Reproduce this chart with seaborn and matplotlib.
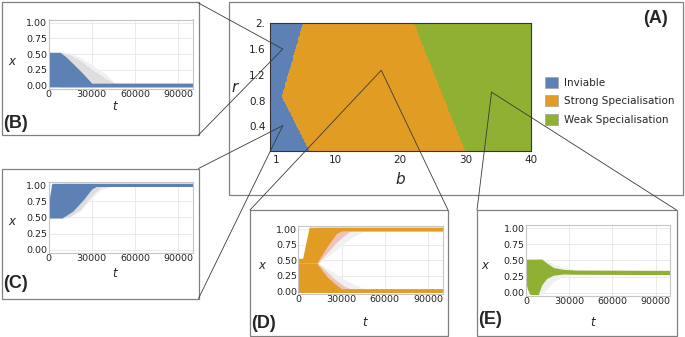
import numpy as np
import matplotlib
matplotlib.use("Agg")
import matplotlib.pyplot as plt
import seaborn as sns
from matplotlib.colors import ListedColormap
from matplotlib.patches import Patch, Rectangle, ConnectionPatch
from matplotlib.ticker import FormatStrFormatter

# ---- panel A: (b, r) plane, region borders ----
regions = ['Inviable', 'Strong Specialisation', 'Weak Specialisation']
region_colors = ['#5e81b5', '#e19c24', '#8fb032']
inviable_r = [0.0, 0.86, 2.0]
inviable_b = [6.1, 1.85, 5.1]
weak_r = [0.0, 2.0]
weak_b = [30.0, 22.1]
b_ticks = [1, 10, 20, 30, 40]
r_ticks = [0.4, 0.8, 1.2, 1.6, 2.0]
r_ticklabels = ['0.4', '0.8', '1.2', '1.6', '2.']

# (b, r) of the runs shown in B-E
picked = {'B': (2.0, 1.6), 'C': (2.0, 0.41), 'D': (17.1, 1.27), 'E': (34.0, 0.93)}

# ---- panels B-E: spread of x(t) over many runs (band + faint halo) ----
t_ticks = [0, 30000, 60000, 90000]
x_ticks = [0, 0.25, 0.5, 0.75, 1.0]

b_t = [0, 8000, 12000, 17000, 24000, 30000, 100000]
b_hi = [0.53, 0.53, 0.46, 0.35, 0.19, 0.04, 0.04]
b_lo = [-0.02] * 7
b_halo_t = [8000, 14000, 22000, 30000, 40000, 46000, 100000]
b_halo_hi = [0.53, 0.52, 0.45, 0.33, 0.18, 0.04, 0.04]
b_halo2_hi = [0.53, 0.50, 0.40, 0.26, 0.11, 0.04, 0.04]

c_t = [0, 2300, 9300, 17000, 24000, 30000, 33000, 100000]
c_hi = [0.72, 1.03, 1.03, 1.03, 1.03, 1.03, 1.03, 1.03]
c_lo = [0.49, 0.49, 0.49, 0.60, 0.77, 0.94, 0.98, 0.98]
c_halo_t = [9300, 14000, 22000, 30000, 36000, 42000, 100000]
c_halo_lo = [0.49, 0.51, 0.60, 0.80, 0.92, 0.98, 0.98]
c_halo2_lo = [0.49, 0.50, 0.62, 0.84, 0.96, 0.98, 0.98]

d_t = [0, 3000, 7500, 12800, 20000, 26500, 30000, 100000]
d_top = [0.53, 0.53, 1.03, 1.03, 1.03, 1.03, 1.03, 1.03]
d_mid_hi = [0.45, 0.45, 0.45, 0.45, 0.72, 0.93, 0.97, 0.97]
d_mid_lo = [0.45, 0.45, 0.45, 0.45, 0.23, 0.10, 0.04, 0.04]
d_bot = [-0.02] * 8
d_halo_t = [12800, 14000, 20000, 26000, 32000, 38000, 46000, 100000]
d_halo_top = [0.45, 0.45, 0.55, 0.66, 0.78, 0.88, 0.97, 0.97]
d_halo_bot = [0.45, 0.45, 0.37, 0.28, 0.19, 0.12, 0.04, 0.04]
d_pink_t = [12800, 13500, 20000, 26000, 32000, 36000, 100000]
d_pink_top = [0.45, 0.45, 0.62, 0.78, 0.90, 0.97, 0.97]
d_pink_bot = [0.45, 0.45, 0.31, 0.18, 0.08, 0.04, 0.04]

e_t = [0, 1000, 2800, 8500, 10900, 14400, 19000, 25900, 35200, 100000]
e_hi = [0.52, 0.52, 0.52, 0.52, 0.52, 0.46, 0.39, 0.36, 0.35, 0.345]
e_lo = [0.15, 0.05, -0.03, -0.03, 0.12, 0.22, 0.27, 0.29, 0.285, 0.28]
e_halo_t = [8500, 10900, 14400, 19000, 25900, 35200, 45000, 100000]
e_halo_hi = [0.53, 0.53, 0.50, 0.44, 0.39, 0.36, 0.35, 0.345]
e_halo_lo = [-0.03, -0.03, 0.05, 0.17, 0.25, 0.28, 0.28, 0.28]

W, H = 685, 337
sns.set_style("whitegrid", {"grid.color": "#e6e6e6", "axes.edgecolor": "#c6c6c6"})
plt.rcParams['font.family'] = ['DejaVu Sans']
fig = plt.figure(figsize=(W / 100, H / 100), dpi=100)


def rect(l, t, r, b):
    return [l / W, 1 - b / H, (r - l) / W, (b - t) / H]


def fpos(x, y):
    return (x / W, 1 - y / H)


# frames around the panels
frame_kw = dict(fill=False, edgecolor='#808080', lw=0.9, transform=fig.transFigure)
frames = {'A': (229, 1.5, 682.5, 195), 'B': (1.5, 2, 198.5, 135), 'C': (1.5, 168.5, 198.5, 298.5),
          'D': (250, 210, 448, 335.5), 'E': (477, 210, 676.5, 335.5)}
for l, t, r, b in frames.values():
    fig.add_artist(Rectangle(fpos(l, b), (r - l) / W, (b - t) / H, **frame_kw))

# ---------------- panel A ----------------
axA = fig.add_axes(rect(269.7, 23.3, 530.7, 150.7))
b0, b1, db = 0.0, 40.0, 0.1
r0, r1, dr = 0.02, 2.0, 0.02
bc = np.arange(b0 + db / 2, b1, db)
rc = np.arange(r1 - dr / 2, r0, -dr)
BB, RR = np.meshgrid(bc, rc)
inv_edge = np.interp(RR, inviable_r, inviable_b)
weak_edge = np.interp(RR, weak_r, weak_b)
cls = np.where(BB < inv_edge, 0, np.where(BB < weak_edge, 1, 2))
sns.heatmap(cls, ax=axA, cmap=ListedColormap(region_colors), vmin=-0.5, vmax=2.5,
            cbar=False, xticklabels=False, yticklabels=False, rasterized=True)


def bx(b):
    return (np.asarray(b) - b0) / db


def ry(r):
    return (r1 - np.asarray(r)) / dr


axA.set_xticks(bx(b_ticks))
axA.set_xticklabels([str(v) for v in b_ticks])
axA.set_yticks(ry(r_ticks))
axA.set_yticklabels(r_ticklabels)
axA.tick_params(direction='in', length=3, width=0.6, color='#333333', labelsize=7.5,
                pad=3, labelcolor='#222222')
for s in axA.spines.values():
    s.set_visible(True)
    s.set_color('#333333')
    s.set_linewidth(0.8)

fig.text(*fpos(235, 88), 'r', style='italic', fontsize=11, ha='center', va='center')
fig.text(*fpos(400, 180), 'b', style='italic', fontsize=11, ha='center', va='center')

handles = [Patch(facecolor=c, edgecolor='#9a9a9a', lw=0.4) for c in region_colors]
fig.legend(handles, regions, loc='upper left', bbox_to_anchor=fpos(544.7, 76.5),
           frameon=False, fontsize=7.5, handlelength=1.25, handleheight=1.25,
           handletextpad=0.6, labelspacing=0.75, borderpad=0, borderaxespad=0)

# ---------------- panels B-E ----------------
def series_axes(box, xlab, tlab):
    ax = fig.add_axes(rect(*box))
    ax.set_xlim(0, 100000)
    ax.set_ylim(-0.045, 1.05)
    ax.set_xticks(t_ticks)
    ax.set_yticks(x_ticks)
    ax.yaxis.set_major_formatter(FormatStrFormatter('%.2f'))
    ax.tick_params(labelsize=6.8, pad=1, length=0, labelcolor='#222222')
    for s in ax.spines.values():
        s.set_linewidth(0.8)
    ax.grid(lw=0.6)
    ax.set_ylabel('x', style='italic', fontsize=8.5, rotation=0, va='center', ha='center')
    ax.yaxis.set_label_coords(*xlab)
    ax.set_xlabel('t', style='italic', fontsize=8.5, va='center')
    ax.xaxis.set_label_coords(*tlab)
    return ax


halo_far, halo_near = '#f0f0f0', '#dedede'

axB = series_axes((48.5, 19.5, 192.5, 88.5), (-0.256, 0.39), (0.46, -0.26))
axB.fill_between(b_halo_t, -0.02, b_halo_hi, color=halo_far, lw=0)
axB.fill_between(b_halo_t, -0.02, b_halo2_hi, color=halo_near, lw=0)
axB.fill_between(b_t, b_lo, b_hi, color=region_colors[0], lw=0)

axC = series_axes((48.5, 182, 192.5, 252.5), (-0.256, 0.44), (0.46, -0.3))
axC.fill_between(c_halo_t, c_halo_lo, 1.03, color=halo_far, lw=0)
axC.fill_between(c_halo_t, c_halo2_lo, 1.03, color=halo_near, lw=0)
axC.fill_between(c_t, c_lo, c_hi, color=region_colors[0], lw=0)

axD = series_axes((298.3, 226, 442.5, 294), (-0.254, 0.42), (0.46, -0.42))
axD.fill_between(d_halo_t, d_halo_top, 1.03, color=halo_far, lw=0)
axD.fill_between(d_halo_t, -0.02, d_halo_bot, color=halo_far, lw=0)
axD.fill_between(d_pink_t, d_pink_top, 1.03, color='#efc3bd', lw=0)
axD.fill_between(d_pink_t, -0.02, d_pink_bot, color='#efc3bd', lw=0)
axD.fill_between(d_t, d_mid_hi, d_top, color=region_colors[1], lw=0)
axD.fill_between(d_t, d_bot, d_mid_lo, color=region_colors[1], lw=0)

axE = series_axes((526, 225, 670, 295.5), (-0.285, 0.42), (0.46, -0.38))
axE.fill_between(e_halo_t, e_halo_lo, e_halo_hi, color=halo_far, lw=0)
axE.fill_between(e_t, e_lo, e_hi, color=region_colors[2], lw=0)

# panel letters
letter_kw = dict(fontsize=13, fontweight='bold', family='Liberation Sans', ha='left', va='center')
fig.text(*fpos(643, 18.5), '(A)', **letter_kw)
fig.text(*fpos(3, 123), '(B)', **letter_kw)
fig.text(*fpos(3, 283.5), '(C)', **letter_kw)
fig.text(*fpos(251.5, 323), '(D)', **letter_kw)
fig.text(*fpos(478, 320), '(E)', **letter_kw)

# zoom lines from the frames to the picked (b, r) points
corners = {'B': [(198.5, 3), (198.5, 135)], 'C': [(198.5, 168.5), (198.5, 298.5)],
           'D': [(250, 210), (448, 210)], 'E': [(477, 210), (676.5, 210)]}
for key, pts in corners.items():
    b, r = picked[key]
    for p in pts:
        con = ConnectionPatch(xyA=fpos(*p), coordsA=fig.transFigure,
                              xyB=(bx(b), ry(r)), coordsB=axA.transData,
                              color='#3a3a3a', lw=0.6)
        fig.add_artist(con)

fig.savefig('out.png', dpi=100)
